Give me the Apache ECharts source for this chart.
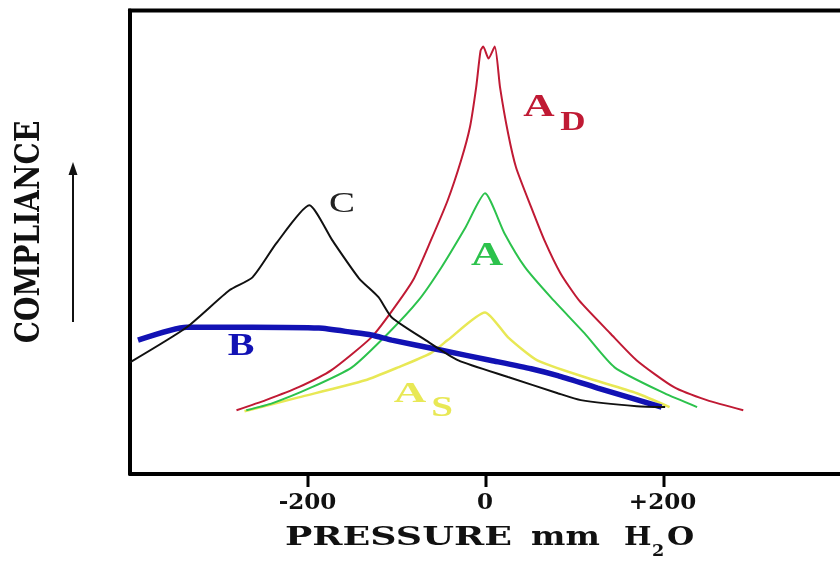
<!DOCTYPE html>
<html>
<head>
<meta charset="utf-8">
<script src="https://cdn.jsdelivr.net/npm/echarts@6/dist/echarts.min.js"></script>
<style>
html,body{margin:0;padding:0;background:#fff;}
#chart{width:840px;height:563px;}
</style>
</head>
<body>
<div id="chart"></div>
<script>
// ---- data (pressure in mm H2O, compliance in arbitrary units 0-100) ----
const xTickValues = [-200, 0, 200];
const xTickLabels = ['-200', '0', '+200'];

const asPressure   = [-271, -210, -135, -98, -61, -42, 0, 26, 59, 112, 171, 208];
const asCompliance = [13.2, 16.2, 19.9, 22.7, 25.8, 28.6, 34.6, 29.2, 24.2, 20.6, 17.1, 14.1];

const aPressure   = [-269, -240, -195, -150, -109, -75, -49, -22, 0, 22, 45, 74, 112, 146, 202, 239];
const aCompliance = [13.4, 14.9, 18.4, 22.7, 30.1, 37.2, 44.4, 53.0, 60.4, 51.7, 44.4, 37.9, 30.1, 22.7, 17.1, 14.1];

const adPressure   = [-280, -247, -210, -173, -128, -106, -81, -61, -42, -27, -17, -10, -5, -2, 4, 11, 17, 26, 35, 52, 67, 85, 106, 141, 171, 213, 250, 291];
const adCompliance = [13.4, 15.6, 18.4, 22.1, 29.2, 34.6, 41.6, 50.2, 58.9, 67.5, 74.7, 83.3, 91.3, 92.2, 89.6, 92.2, 83.3, 73.4, 66.0, 57.4, 50.2, 43.1, 37.2, 30.1, 24.2, 18.4, 15.6, 13.4];

const bPressure   = [-391, -336, -262, -187, -150, -128, -105, -49, 7, 52, 82, 127, 199];
const bCompliance = [28.6, 31.4, 31.4, 31.2, 30.3, 29.7, 28.6, 26.4, 24.2, 22.4, 20.9, 18.2, 14.1];

const cPressure   = [-400, -336, -288, -262, -235, -198, -172, -142, -120, -105, -67, -30, 26, 82, 108, 171, 203];
const cCompliance = [23.8, 31.4, 39.4, 42.2, 49.6, 57.8, 50.2, 42.0, 37.9, 33.5, 28.6, 24.2, 20.6, 17.1, 15.6, 14.3, 14.1];

function zip(xs, ys) { return xs.map((x, i) => [x, ys[i]]); }

const W = 840, H = 563;
const GRID_LEFT = 130, GRID_RIGHT = -2, GRID_TOP = 10.5, GRID_BOTTOM = 89;
const X_MIN = -400, X_MAX = 400;

const chart = echarts.init(document.getElementById('chart'), null, {renderer: 'canvas', width: W, height: H});

const serifBold = "'DejaVu Serif'";
const lineSeries = (name, xs, ys, color, width) => ({
  name: name,
  type: 'line',
  data: zip(xs, ys),
  showSymbol: false,
  symbol: 'none',
  smooth: 0.2,
  lineStyle: {color: color, width: width},
  silent: true
});

// tick marks below the axis (same linear mapping as the axis)
const plotW = W - GRID_LEFT - GRID_RIGHT;
const axisY = H - GRID_BOTTOM;
const tickMarks = xTickValues.map(v => {
  const px = GRID_LEFT + (v - X_MIN) / (X_MAX - X_MIN) * plotW;
  return {type: 'rect', z: 100, shape: {x: px - 1.5, y: axisY, width: 3, height: 13},
          style: {fill: '#000'}, silent: true};
});

const graphics = [
  // top frame line
  {type: 'line', shape: {x1: 128, y1: 10.5, x2: 840, y2: 10.5}, style: {stroke: '#000', lineWidth: 4}, silent: true},
  // y-axis title and arrow
  {type: 'text', x: 30, y: 232, rotation: Math.PI / 2, scaleY: 1.2,
   style: {text: 'COMPLIANCE', font: "bold 28px 'DejaVu Serif'", fill: '#111', textAlign: 'center', textVerticalAlign: 'middle'}},
  {type: 'line', shape: {x1: 73, y1: 322, x2: 73, y2: 172}, style: {stroke: '#111', lineWidth: 2}},
  {type: 'polygon', shape: {points: [[73, 162], [68.5, 175], [77.5, 175]]}, style: {fill: '#111'}},
  // x-axis title
  {type: 'text', x: 285, y: 538, scaleX: 1.4,
   style: {text: 'PRESSURE', font: "bold 26px 'DejaVu Serif'", fill: '#111', textAlign: 'left', textVerticalAlign: 'middle'}},
  {type: 'text', x: 531, y: 538, scaleX: 1.25,
   style: {text: 'mm', font: "bold 26px 'DejaVu Serif'", fill: '#111', textAlign: 'left', textVerticalAlign: 'middle'}},
  {type: 'text', x: 624, y: 538, scaleX: 1.12,
   style: {text: 'H', font: "bold 26px 'DejaVu Serif'", fill: '#111', textAlign: 'left', textVerticalAlign: 'middle'}},
  {type: 'text', x: 652, y: 552, scaleX: 1.1,
   style: {text: '2', font: "bold 16px 'DejaVu Serif'", fill: '#111', textAlign: 'left', textVerticalAlign: 'middle'}},
  {type: 'text', x: 667, y: 538, scaleX: 1.2,
   style: {text: 'O', font: "bold 26px 'DejaVu Serif'", fill: '#111', textAlign: 'left', textVerticalAlign: 'middle'}},
  // curve labels
  {type: 'text', x: 342, y: 204, scaleX: 1.3,
   style: {text: 'C', font: "30px 'Liberation Serif'", fill: '#222', textAlign: 'center', textVerticalAlign: 'middle'}},
  {type: 'text', x: 539, y: 108, scaleX: 1.4,
   style: {text: 'A', font: "bold 31px 'Liberation Serif'", fill: '#c01a34', textAlign: 'center', textVerticalAlign: 'middle'}},
  {type: 'text', x: 573, y: 123, scaleX: 1.25,
   style: {text: 'D', font: "bold 28px 'Liberation Serif'", fill: '#c01a34', textAlign: 'center', textVerticalAlign: 'middle'}},
  {type: 'text', x: 487, y: 256, scaleX: 1.35,
   style: {text: 'A', font: "bold 33px 'Liberation Serif'", fill: '#2cc24c', textAlign: 'center', textVerticalAlign: 'middle'}},
  {type: 'text', x: 241, y: 347, scaleX: 1.25,
   style: {text: 'B', font: "bold 32px 'Liberation Serif'", fill: '#1212b4', textAlign: 'center', textVerticalAlign: 'middle'}},
  {type: 'text', x: 410, y: 394, scaleX: 1.5,
   style: {text: 'A', font: "bold 30px 'Liberation Serif'", fill: '#e8e855', textAlign: 'center', textVerticalAlign: 'middle'}},
  {type: 'text', x: 442, y: 408, scaleX: 1.3,
   style: {text: 'S', font: "bold 30px 'Liberation Serif'", fill: '#e8e855', textAlign: 'center', textVerticalAlign: 'middle'}}
].concat(tickMarks);

const option = {
  animation: false,
  backgroundColor: '#ffffff',
  grid: {left: GRID_LEFT, right: GRID_RIGHT, top: GRID_TOP, bottom: GRID_BOTTOM, show: false},
  xAxis: {
    type: 'value',
    min: X_MIN, max: X_MAX, interval: 200,
    splitLine: {show: false},
    axisLine: {show: true, onZero: false, lineStyle: {color: '#000', width: 4}},
    axisTick: {show: false},
    axisLabel: {
      show: true,
      customValues: xTickValues,
      margin: 18,
      fontFamily: serifBold, fontWeight: 'bold', fontSize: 23, color: '#111',
      formatter: function (v) { const i = xTickValues.indexOf(v); return i >= 0 ? xTickLabels[i] : ''; }
    }
  },
  yAxis: {
    type: 'value',
    min: -0.4, max: 100,
    splitLine: {show: false},
    axisLine: {show: true, onZero: false, lineStyle: {color: '#000', width: 4}},
    axisTick: {show: false},
    axisLabel: {show: false}
  },
  series: [
    lineSeries('As', asPressure, asCompliance, '#e8e855', 2.5),
    lineSeries('A', aPressure, aCompliance, '#2cc24c', 2),
    lineSeries('Ad', adPressure, adCompliance, '#c01a34', 2),
    lineSeries('B', bPressure, bCompliance, '#1212b4', 5.5),
    lineSeries('C', cPressure, cCompliance, '#111111', 2)
  ],
  graphic: graphics
};
chart.setOption(option);
</script>
</body>
</html>
